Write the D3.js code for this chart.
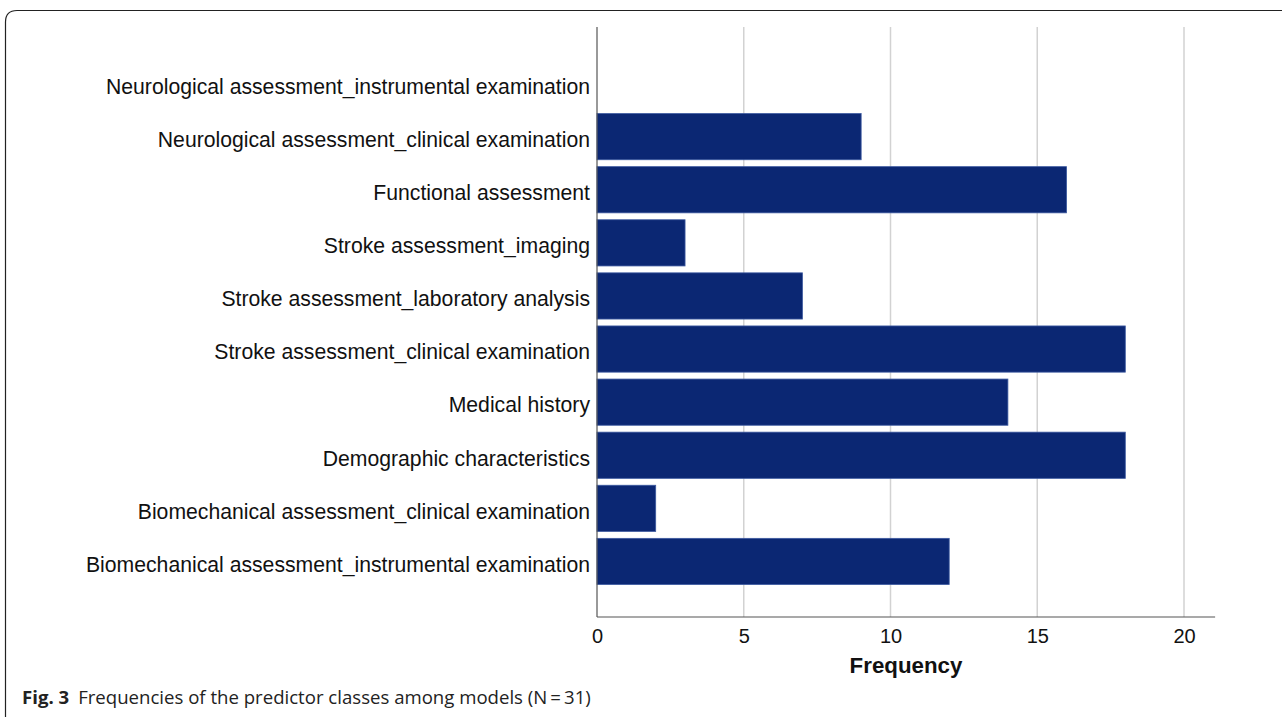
<!DOCTYPE html>
<html><head><meta charset="utf-8">
<script src="https://cdn.jsdelivr.net/npm/d3@7"></script>
<style>body{margin:0;background:#fff}svg{display:block}</style>
</head><body>
<svg id="c" width="1282" height="717"></svg>
<script>
const categories = [
  "Neurological assessment_instrumental examination",
  "Neurological assessment_clinical examination",
  "Functional assessment",
  "Stroke assessment_imaging",
  "Stroke assessment_laboratory analysis",
  "Stroke assessment_clinical examination",
  "Medical history",
  "Demographic characteristics",
  "Biomechanical assessment_clinical examination",
  "Biomechanical assessment_instrumental examination"
];
const frequencies = [0, 9, 16, 3, 7, 18, 14, 18, 2, 12];
const xTicks = [0, 5, 10, 15, 20];
const xTitle = "Frequency";
const captionBold = "Fig. 3";
const captionText = "Frequencies of the predictor classes among models (N\u2009=\u200931)";

const svg = d3.select("#c");
// frame
svg.append("path")
  .attr("d", "M5.5,717 L5.5,22 Q5.5,10.5 17,10.5 L1282,10.5")
  .attr("fill","none").attr("stroke","#222").attr("stroke-width",1.2);

const x = d3.scaleLinear().domain([0,20]).range([597,1184]);
const y = d3.scaleBand().domain(categories).range([57,588]).paddingInner(0.13).paddingOuter(0.065);
const yTop = 27, yBot = 617;

// gridlines
svg.append("g").selectAll("line").data(xTicks.filter(d=>d>0)).join("line")
  .attr("x1",d=>x(d)).attr("x2",d=>x(d)).attr("y1",yTop).attr("y2",yBot)
  .attr("stroke","#d2d2d2").attr("stroke-width",1.5);

// bars
svg.append("g").selectAll("rect").data(categories).join("rect")
  .attr("x",x(0)).attr("y",d=>y(d))
  .attr("width",(d,i)=>x(frequencies[i])-x(0))
  .attr("height",y.bandwidth())
  .attr("fill",(d,i)=>frequencies[i]>0?"#0b2773":"none")
  .attr("stroke",(d,i)=>frequencies[i]>0?"#3d5aa0":"none").attr("stroke-width",0.8);

// axes lines
svg.append("line").attr("x1",x(0)).attr("x2",x(0)).attr("y1",yTop).attr("y2",yBot)
  .attr("stroke","#555").attr("stroke-width",1.2);
svg.append("line").attr("x1",x(0)).attr("x2",x(21.06)).attr("y1",yBot).attr("y2",yBot)
  .attr("stroke","#555").attr("stroke-width",1.2);

// x axis tick labels via d3 axis
const xAxis = d3.axisBottom(x).tickValues(xTicks).tickSize(0).tickPadding(12).tickFormat(d3.format("d"));
const gx = svg.append("g").attr("transform",`translate(0,${yBot})`).call(xAxis);
gx.select(".domain").remove();
gx.selectAll("text").attr("font-family","Liberation Sans, Arial, sans-serif").attr("font-size",20).attr("fill","#111");

// y labels via axis
const yAxis = d3.axisLeft(y).tickSize(0).tickPadding(7);
const gy = svg.append("g").attr("transform",`translate(${x(0)},3.5)`).call(yAxis);
gy.select(".domain").remove();
gy.selectAll("text").attr("font-family","Liberation Sans, Arial, sans-serif").attr("font-size",21.2).attr("fill","#111");

svg.append("text").attr("x",906).attr("y",673).attr("text-anchor","middle")
  .attr("font-family","Liberation Sans, Arial, sans-serif").attr("font-weight","bold")
  .attr("font-size",22.3).attr("fill","#111").text(xTitle);

const cap = svg.append("text").attr("x",22).attr("y",704)
  .attr("font-family","Open Sans, Noto Sans, sans-serif").attr("font-size",18.6).attr("fill","#222");
cap.append("tspan").attr("font-weight","bold").text(captionBold);
cap.append("tspan").attr("dx",9).text(captionText);
</script>
</body></html>
